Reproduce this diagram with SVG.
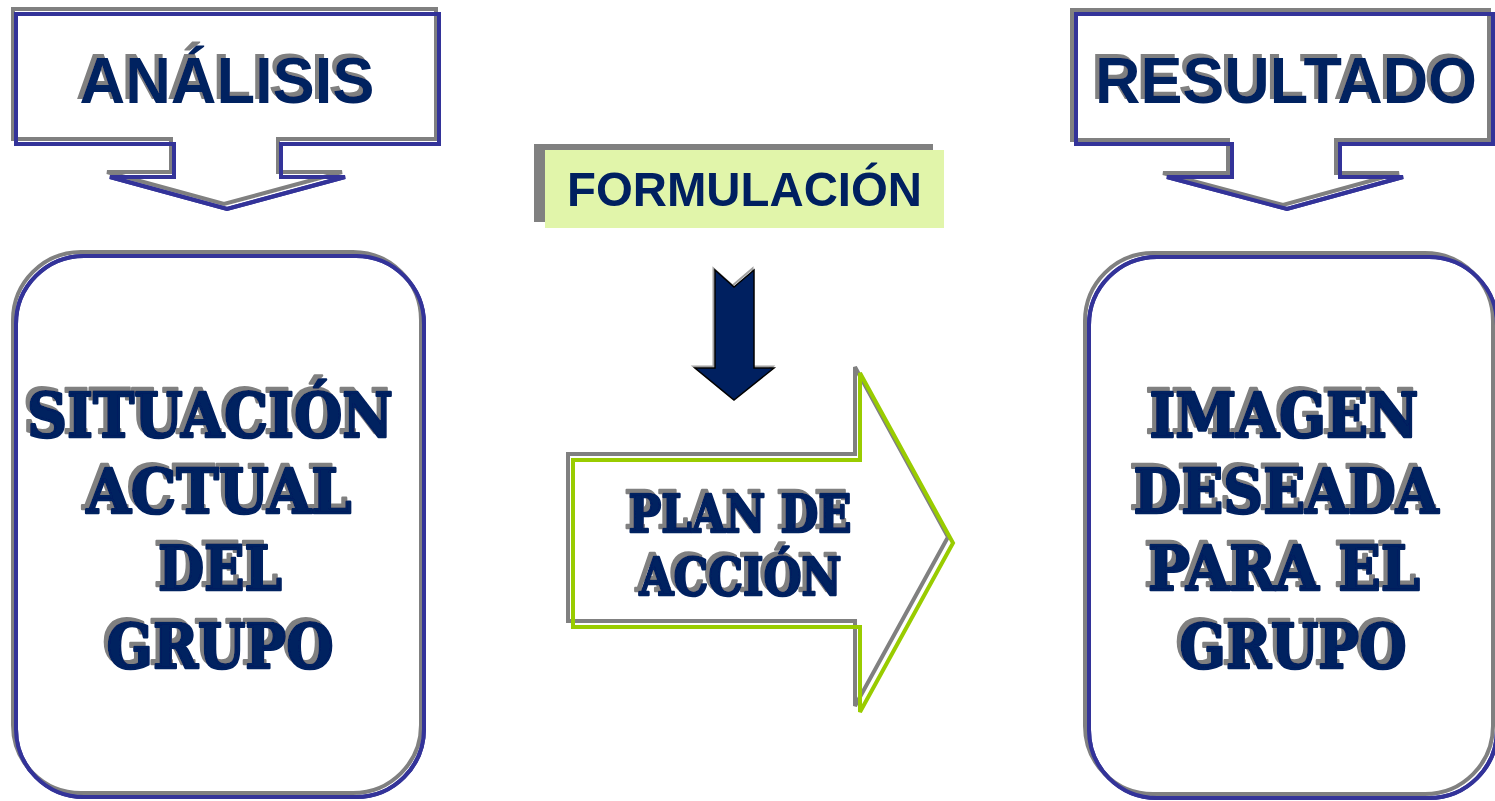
<svg xmlns="http://www.w3.org/2000/svg" width="1495" height="801" viewBox="0 0 1495 801">
<defs>
<filter id="tsh" x="-10%" y="-20%" width="120%" height="140%">
<feOffset in="SourceAlpha" dx="-4" dy="-4" result="o"/>
<feFlood flood-color="#808080"/>
<feComposite in2="o" operator="in" result="s"/>
<feMerge><feMergeNode in="s"/><feMergeNode in="SourceGraphic"/></feMerge>
</filter>
</defs>
<style>
.sh{fill:none;stroke:#808080;stroke-width:4;stroke-linejoin:miter}
.bl{fill:#fff;stroke:#333399;stroke-width:4;stroke-linejoin:miter}
.bl2{fill:none;stroke:#333399;stroke-width:4}
.gr{fill:none;stroke:#99cc00;stroke-width:4}
.sans{font-family:"Liberation Sans",Arial,sans-serif;font-weight:bold;text-anchor:middle;fill:#002060}
.slab{font-family:"DejaVu Serif",serif;font-weight:bold;text-anchor:middle;fill:#002060;stroke:#002060;stroke-width:2.5;stroke-linejoin:round}
.shad{filter:url(#tsh)}
</style>
<rect width="1495" height="801" fill="#fff"/>
<g id="analisis">
<path class="bl" d="M16,14 H439 V144 H281 V177 H345 L227,209 L110,177 H174 V144 H16 Z"/>
<path class="sh" transform="translate(-3,-5)" d="M16,14 H439 V144 H281 V177 H345 L227,209 L110,177 H174 V144 H16 Z"/>
<path class="bl2" d="M16,14 H439 V144 H281 V177 H345 L227,209 L110,177 H174 V144 H16 Z"/>
<text class="sans shad" x="227" y="103" font-size="64" textLength="295" lengthAdjust="spacingAndGlyphs">ANÁLISIS</text>
</g>
<g id="resultado">
<path class="bl" d="M1076,14 H1493 V144 H1340 V177 H1403 L1287,209 L1167,177 H1232 V144 H1076 Z"/>
<path class="sh" transform="translate(-4,-4)" d="M1076,14 H1493 V144 H1340 V177 H1403 L1287,209 L1167,177 H1232 V144 H1076 Z"/>
<path class="bl2" d="M1076,14 H1493 V144 H1340 V177 H1403 L1287,209 L1167,177 H1232 V144 H1076 Z"/>
<text class="sans shad" x="1286" y="103" font-size="64" textLength="382" lengthAdjust="spacingAndGlyphs">RESULTADO</text>
</g>
<g id="formulacion">
<rect x="534" y="144" width="399" height="78" fill="#808080"/>
<rect x="545" y="150" width="399" height="78" fill="#e1f5aa"/>
<text class="sans" x="744.5" y="206" font-size="49" textLength="355" lengthAdjust="spacingAndGlyphs">FORMULACIÓN</text>
</g>
<g id="situacion">
<rect class="bl" x="16" y="256" width="408" height="541" rx="68"/>
<rect class="sh" x="13" y="252" width="408" height="541" rx="68"/>
<rect class="bl2" x="16" y="256" width="408" height="541" rx="68"/>
<g class="slab shad" font-size="62">
<text x="210" y="437" textLength="366" lengthAdjust="spacingAndGlyphs">SITUACIÓN</text>
<text x="219" y="513" textLength="265" lengthAdjust="spacingAndGlyphs">ACTUAL</text>
<text x="220" y="590" textLength="124" lengthAdjust="spacingAndGlyphs">DEL</text>
<text x="220" y="668" textLength="227" lengthAdjust="spacingAndGlyphs">GRUPO</text>
</g>
</g>
<g id="imagen">
<rect class="bl" x="1089" y="257" width="408" height="541" rx="68"/>
<rect class="sh" x="1085" y="253" width="408" height="541" rx="68"/>
<rect class="bl2" x="1089" y="257" width="408" height="541" rx="68"/>
<g class="slab shad" font-size="62">
<text x="1284" y="437" textLength="269" lengthAdjust="spacingAndGlyphs">IMAGEN</text>
<text x="1286" y="513" textLength="305" lengthAdjust="spacingAndGlyphs">DESEADA</text>
<text x="1284" y="590" textLength="272" lengthAdjust="spacingAndGlyphs">PARA EL</text>
<text x="1293" y="668" textLength="227" lengthAdjust="spacingAndGlyphs">GRUPO</text>
</g>
</g>
<g id="plan">
<path class="sh" transform="translate(-5,-6)" d="M573,460 H860 V373 L953,543 L860,712 V627 H573 Z"/>
<path class="gr" d="M573,460 H860 V373 L953,543 L860,712 V627 H573 Z"/>
<g class="slab shad" font-size="53">
<text x="740" y="532" textLength="223" lengthAdjust="spacingAndGlyphs">PLAN DE</text>
<text x="740.5" y="595" textLength="202" lengthAdjust="spacingAndGlyphs">ACCIÓN</text>
</g>
</g>
<g id="connectors">
<path d="M715,270 L734,287 L754,270 V368 H774 L734,400 L695,368 H715 Z" fill="none" stroke="#a0a0a0" stroke-width="2" transform="translate(-1.5,-1.5)"/>
<path d="M715,270 L734,287 L754,270 V368 H774 L734,400 L695,368 H715 Z" fill="#002060" stroke="#000" stroke-width="1.5"/>
</g>
</svg>
